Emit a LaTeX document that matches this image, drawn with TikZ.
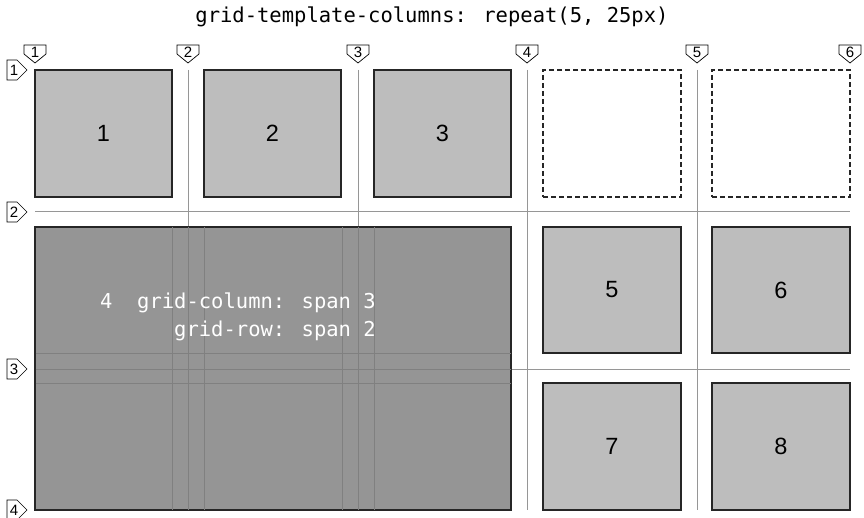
\documentclass[tikz,border=0pt]{standalone}
\usepackage{fontspec}
\setmainfont{Liberation Sans}
\newfontfamily\monof{DejaVu Sans Mono}
\begin{document}
\begin{tikzpicture}[x=1pt,y=-1pt,
  cell/.style={draw=black!85, line width=1.1pt, fill=lightcell, inner sep=0pt, font=\fontsize{23.5}{23.5}\selectfont},
  emptycell/.style={draw=black!85, line width=1.1pt, dashed, dash pattern=on 5pt off 3pt, fill=white, inner sep=0pt},
  bigcell/.style={draw=black!85, line width=1.1pt, fill=darkcell, inner sep=0pt},
  gline/.style={draw=gridgray, line width=1pt},
  iline/.style={draw=innergray, line width=1pt},
  marker/.style={draw=black, line width=0.7pt, fill=white},
  mlabel/.style={font=\fontsize{15}{15}\selectfont, inner sep=0pt}]
\definecolor{lightcell}{RGB}{189,189,189}
\definecolor{darkcell}{RGB}{149,149,149}
\definecolor{gridgray}{RGB}{150,150,150}
\definecolor{innergray}{RGB}{128,128,128}
\useasboundingbox (0,0) rectangle (864,518);
% title
\node[font=\monof\fontsize{20.5}{20.5}\selectfont, anchor=center] (title) at (432,17) {grid-template-columns: repeat(5, 25px)};
% grid lines
\foreach \gx in {188,358,527,697} \draw[gline] (\gx,70) -- (\gx,510);
\draw[gline] (35,212) -- (850,212);
\draw[gline] (35,369) -- (850,369);
% small cells
\node[cell, minimum width=137pt, minimum height=127pt] (c1) at (103.5,133.5) {1};
\node[cell, minimum width=137pt, minimum height=127pt] (c2) at (272.5,133.5) {2};
\node[cell, minimum width=137pt, minimum height=127pt] (c3) at (442.5,133.5) {3};
\node[emptycell, minimum width=138pt, minimum height=127pt] (e1) at (612,133.5) {};
\node[emptycell, minimum width=138pt, minimum height=127pt] (e2) at (781,133.5) {};
\node[cell, minimum width=138pt, minimum height=126pt] (c5) at (612,290) {5};
\node[cell, minimum width=138pt, minimum height=126pt] (c6) at (781,290) {6};
\node[cell, minimum width=138pt, minimum height=127pt] (c7) at (612,446.5) {7};
\node[cell, minimum width=138pt, minimum height=127pt] (c8) at (781,446.5) {8};
% big cell
\node[bigcell, minimum width=476pt, minimum height=283pt] (c4) at (273,368.5) {};
\foreach \gx in {172,188,204,342,358,374} \draw[iline] (\gx,227.5) -- (\gx,509.5);
\foreach \gy in {353,369,383} \draw[iline] (35.5,\gy) -- (510.5,\gy);
\node[font=\monof\fontsize{20.5}{28}\selectfont, text=white, align=right, anchor=east, inner sep=0pt] (c4text) at (376,317) {4\ \ grid-column: span 3\\grid-row: span 2};
% column markers
\foreach \mx/\k in {35/1,188/2,358/3,527/4,697/5,850/6}{
  \draw[marker] (\mx-11,45) -- (\mx+11,45) -- (\mx+11,54) -- (\mx,63) -- (\mx-11,54) -- cycle;
  \node[mlabel] (cm\k) at (\mx,52) {\k};
}
% row markers
\foreach \my/\k in {70/1,212/2,369/3,510/4}{
  \draw[marker] (7,\my-10) -- (17,\my-10) -- (27,\my) -- (17,\my+10) -- (7,\my+10) -- cycle;
  \node[mlabel] (rm\k) at (14,\my) {\k};
}
\end{tikzpicture}
\end{document}
